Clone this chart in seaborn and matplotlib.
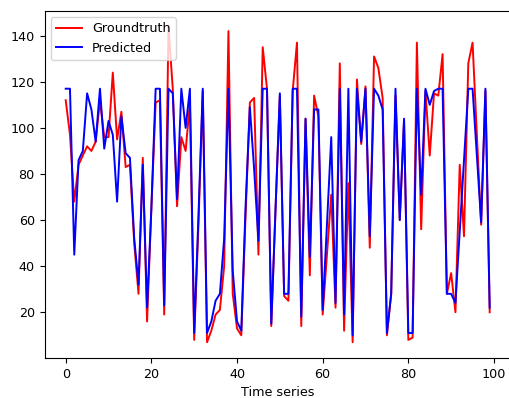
import numpy as np
import pandas as pd
import matplotlib
matplotlib.use("Agg")
import matplotlib.pyplot as plt
import seaborn as sns

groundtruth = [112, 97, 68, 84, 88, 92, 90, 94, 112, 96,
               96, 124, 95, 107, 83, 84, 50, 28, 87, 16,
               65, 111, 112, 19, 144, 117, 66, 96, 90, 111,
               8, 58, 116, 7, 12, 19, 21, 40, 142, 28,
               13, 10, 62, 111, 113, 45, 135, 117, 14, 65,
               114, 27, 25, 116, 137, 14, 104, 36, 114, 105,
               19, 45, 71, 22, 128, 12, 76, 7, 121, 93,
               118, 48, 131, 126, 113, 10, 28, 114, 60, 103,
               8, 9, 137, 56, 116, 88, 115, 114, 132, 28,
               37, 20, 84, 53, 128, 137, 97, 58, 116, 20]
predicted = [117, 117, 45, 86, 90, 115, 108, 94, 117, 91,
             103, 97, 68, 105, 89, 87, 52, 32, 84, 22,
             65, 117, 117, 23, 117, 115, 69, 117, 100, 117,
             11, 62, 117, 11, 16, 25, 28, 52, 117, 38,
             16, 12, 66, 109, 82, 51, 117, 117, 15, 65,
             115, 28, 28, 117, 117, 18, 104, 44, 108, 108,
             21, 58, 96, 24, 117, 19, 117, 10, 117, 94,
             117, 53, 117, 114, 108, 11, 28, 117, 60, 104,
             11, 11, 117, 71, 117, 110, 116, 117, 117, 28,
             28, 24, 55, 86, 117, 117, 88, 59, 117, 22]
time_idx = np.arange(len(groundtruth))

plt.rcParams['font.size'] = 9.2
plt.rcParams['font.family'] = ['DejaVu Sans']

fig = plt.figure(figsize=(5.09, 3.98), dpi=100)
ax = fig.add_axes([44.5 / 509, 40 / 398, 466.4 / 509, 347.3 / 398])

sns.lineplot(x=time_idx, y=groundtruth, color='red', label='Groundtruth', ax=ax, linewidth=1.4)
sns.lineplot(x=time_idx, y=predicted, color='blue', label='Predicted', ax=ax, linewidth=1.4)

ax.set_xlabel('Time series')
ax.set_ylabel('')
ax.legend(loc='upper left')

fig.savefig('out.png', dpi=100)
